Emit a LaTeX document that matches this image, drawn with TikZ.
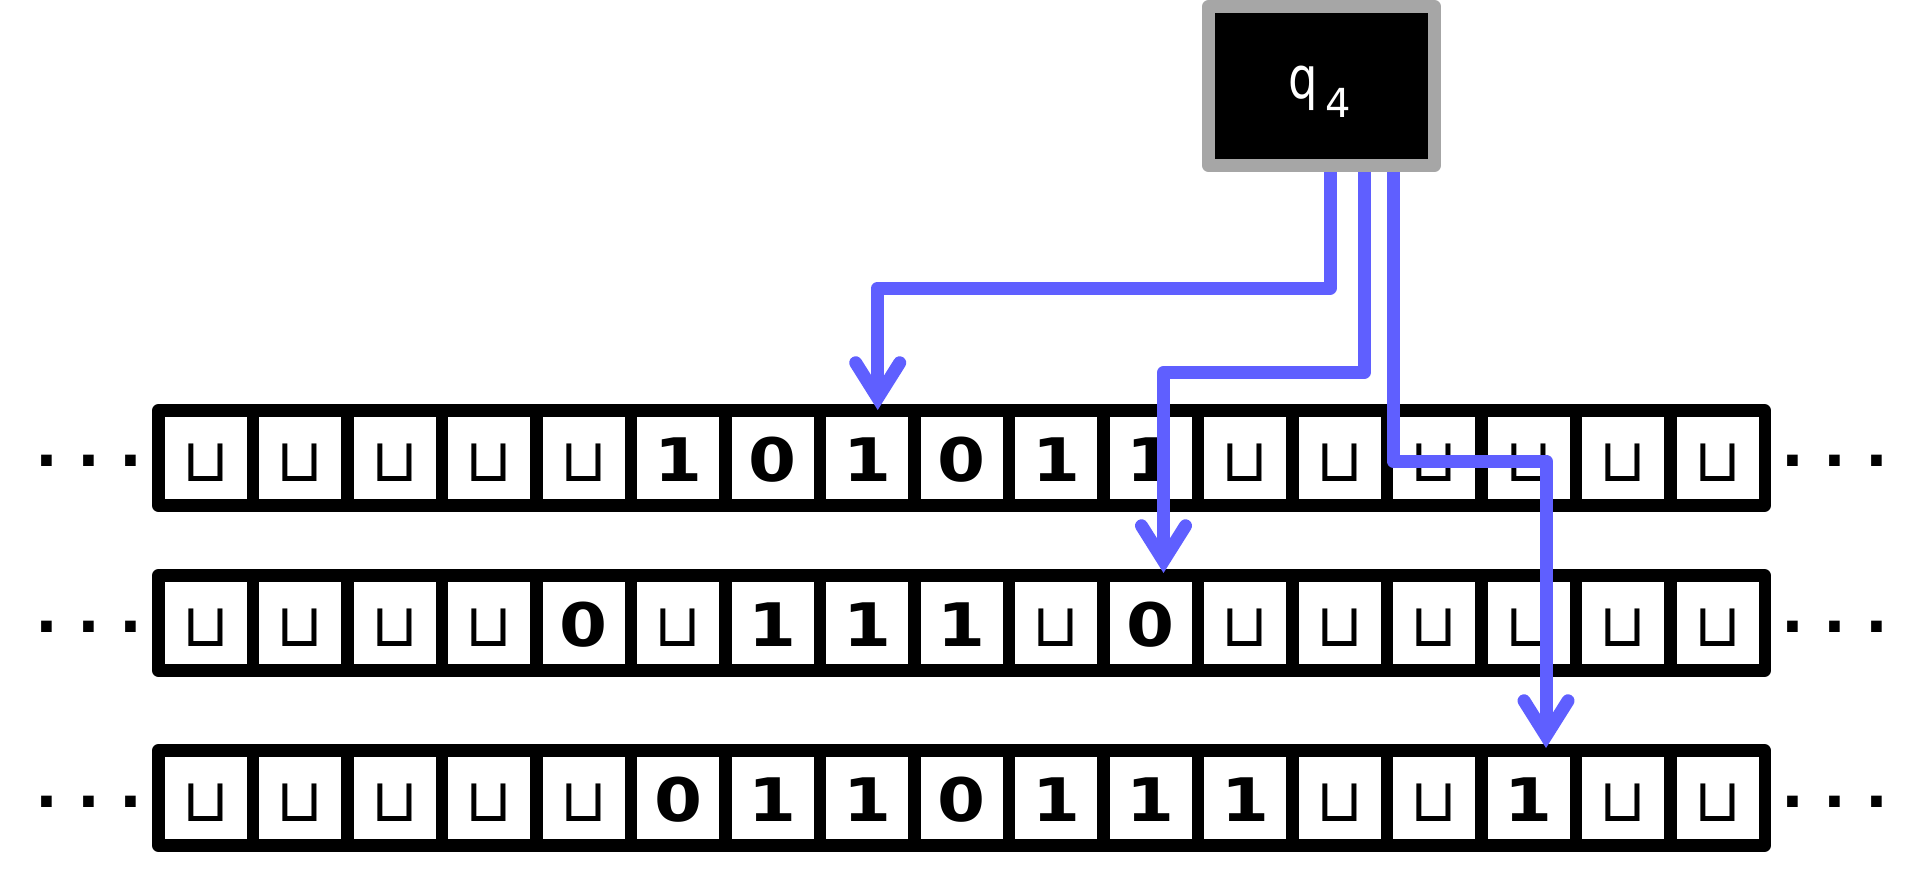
\documentclass[tikz,border=0pt]{standalone}
\usepackage{fontspec}
\usetikzlibrary{arrows.meta}
\newfontfamily\dvs{DejaVu Sans}
\newfontfamily\dvsb{DejaVu Sans}[FakeStretch=1.15]
\newfontfamily\qfont{DejaVu Sans}[FakeStretch=0.8]
\definecolor{arrowblue}{HTML}{5F5FFF}
\definecolor{boxgray}{HTML}{A6A6A6}
\newcommand\bl{{\dvs\mdseries ⊔}}
\newcommand\tdots{.\hspace{19pt}.\hspace{19pt}.}
\begin{document}
\begin{tikzpicture}[x=1pt,y=-1pt,
  tapeframe/.style={draw=black, fill=black, line width=13pt, line join=round,
    minimum width=1606pt, minimum height=95pt, inner sep=0pt},
  tapecell/.style={fill=white, minimum size=82pt, inner sep=0pt,
    text height=46pt, text depth=0pt, font=\dvsb\bfseries\fontsize{60}{60}\selectfont},
  tapedots/.style={anchor=base, inner sep=0pt, font=\dvs\bfseries\fontsize{60}{60}\selectfont},
  headbox/.style={draw=boxgray, fill=black, line width=13pt, line join=round,
    minimum width=226pt, minimum height=159pt, inner sep=0pt},
  conn/.style={draw=arrowblue, line width=13pt, line join=round,
    -{Straight Barb[length=35pt,width=44pt,line cap=round,line join=miter]}}]
\useasboundingbox (0,0) rectangle (1924,871);
% tapes
\node[tapeframe] (t1) at (961.5,458) {};
\node[tapeframe] (t2) at (961.5,623) {};
\node[tapeframe] (t3) at (961.5,798) {};
\foreach \s [count=\i from 0] in {\bl,\bl,\bl,\bl,\bl,1,0,1,0,1,1,\bl,\bl,\bl,\bl,\bl,\bl}
  \node[tapecell] (a\i) at ({205.6+94.5*\i},458) {\s};
\foreach \s [count=\i from 0] in {\bl,\bl,\bl,\bl,0,\bl,1,1,1,\bl,0,\bl,\bl,\bl,\bl,\bl,\bl}
  \node[tapecell] (b\i) at ({205.6+94.5*\i},623) {\s};
\foreach \s [count=\i from 0] in {\bl,\bl,\bl,\bl,\bl,0,1,1,0,1,1,1,\bl,\bl,1,\bl,\bl}
  \node[tapecell] (c\i) at ({205.6+94.5*\i},798) {\s};
% dots
\node[tapedots] (l1) at (89,466) {\tdots};
\node[tapedots] (r1) at (1835,466) {\tdots};
\node[tapedots] (l2) at (89,632) {\tdots};
\node[tapedots] (r2) at (1835,632) {\tdots};
\node[tapedots] (l3) at (89,807) {\tdots};
\node[tapedots] (r3) at (1835,807) {\tdots};
% head box
\node[headbox] (q) at (1321.5,86) {};
\node[anchor=base west, inner sep=0pt, text=white, font=\qfont\fontsize{58}{58}\selectfont]
  (ql) at (1288.5,98) {q\kern7.5pt\raisebox{-19pt}{\dvs\fontsize{40}{40}\selectfont 4}};
% connectors
\coordinate (k1) at (877.7,288);
\coordinate (h1) at (877.7,410);
\coordinate (k2) at (1163.5,372.5);
\coordinate (h2) at (1163.5,573);
\coordinate (k3) at (1546,461);
\coordinate (h3) at (1546,748);
\draw[conn] ([xshift=8.5pt]q.south) |- (k1) -- (h1);
\draw[conn] ([xshift=42.5pt]q.south) |- (k2) -- (h2);
\draw[conn] ([xshift=71.5pt]q.south) |- (k3) -- (h3);
\end{tikzpicture}
\end{document}
